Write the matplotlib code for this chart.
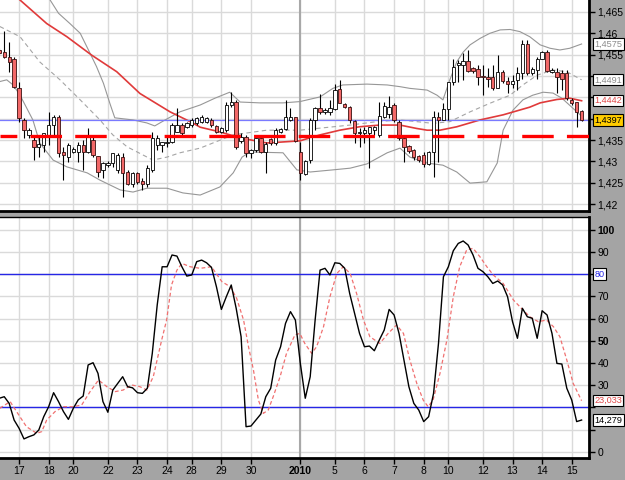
import matplotlib
matplotlib.use("Agg")
import matplotlib.pyplot as plt
import numpy as np

plt.rcParams['font.family'] = ['Liberation Sans', 'DejaVu Sans']

# 4h candles
opens = [1.4561, 1.4557, 1.4545, 1.4541, 1.4471, 1.4397, 1.4362, 1.4350, 1.4334, 1.4338,
         1.4362, 1.4385, 1.4405, 1.4323, 1.4311, 1.4323, 1.4323, 1.4338, 1.4323, 1.4350,
         1.4313, 1.4280, 1.4291, 1.4295, 1.4280, 1.4311, 1.4276, 1.4248, 1.4272, 1.4254,
         1.4246, 1.4280, 1.4338, 1.4338, 1.4342, 1.4346, 1.4369, 1.4385, 1.4381, 1.4385,
         1.4389, 1.4393, 1.4393, 1.4397, 1.4383, 1.4369, 1.4373, 1.4432, 1.4440, 1.4348,
         1.4358, 1.4319, 1.4327, 1.4354, 1.4323, 1.4352, 1.4342, 1.4369, 1.4375, 1.4397,
         1.4403, 1.4323, 1.4270, 1.4303, 1.4397, 1.4426, 1.4416, 1.4416, 1.4422, 1.4469,
         1.4434, 1.4428, 1.4395, 1.4366, 1.4366, 1.4366, 1.4373, 1.4362, 1.4405, 1.4411,
         1.4432, 1.4393, 1.4354, 1.4336, 1.4327, 1.4313, 1.4315, 1.4294, 1.4323, 1.4405,
         1.4397, 1.4422, 1.4487, 1.4526, 1.4526, 1.4536, 1.4518, 1.4516, 1.4500, 1.4498,
         1.4497, 1.4471, 1.4510, 1.4489, 1.4481, 1.4491, 1.4506, 1.4576, 1.4508, 1.4514,
         1.4541, 1.4557, 1.4510, 1.4510, 1.4506, 1.4506, 1.4444, 1.4438, 1.4419]
highs = [1.4565, 1.4605, 1.4580, 1.4545, 1.4487, 1.4401, 1.4377, 1.4358, 1.4362, 1.4366,
         1.4416, 1.4409, 1.4409, 1.4334, 1.4342, 1.4334, 1.4346, 1.4350, 1.4377, 1.4362,
         1.4313, 1.4299, 1.4301, 1.4319, 1.4319, 1.4319, 1.4280, 1.4276, 1.4276, 1.4260,
         1.4291, 1.4369, 1.4362, 1.4346, 1.4362, 1.4389, 1.4424, 1.4389, 1.4393, 1.4401,
         1.4405, 1.4409, 1.4405, 1.4401, 1.4385, 1.4381, 1.4440, 1.4463, 1.4444, 1.4366,
         1.4362, 1.4330, 1.4358, 1.4362, 1.4346, 1.4354, 1.4377, 1.4377, 1.4444, 1.4424,
         1.4405, 1.4346, 1.4303, 1.4401, 1.4428, 1.4458, 1.4424, 1.4444, 1.4482, 1.4491,
         1.4436, 1.4430, 1.4397, 1.4377, 1.4381, 1.4381, 1.4383, 1.4440, 1.4440, 1.4452,
         1.4436, 1.4397, 1.4362, 1.4338, 1.4330, 1.4315, 1.4323, 1.4325, 1.4419, 1.4416,
         1.4436, 1.4487, 1.4541, 1.4537, 1.4553, 1.4561, 1.4522, 1.4526, 1.4526, 1.4518,
         1.4526, 1.4549, 1.4514, 1.4498, 1.4502, 1.4522, 1.4584, 1.4584, 1.4522, 1.4544,
         1.4559, 1.4561, 1.4518, 1.4518, 1.4514, 1.4514, 1.4448, 1.4440, 1.4420]
lows = [1.4550, 1.4542, 1.4510, 1.4471, 1.4393, 1.4354, 1.4354, 1.4303, 1.4311, 1.4323,
        1.4338, 1.4362, 1.4311, 1.4256, 1.4299, 1.4319, 1.4299, 1.4280, 1.4319, 1.4311,
        1.4264, 1.4260, 1.4287, 1.4287, 1.4272, 1.4217, 1.4245, 1.4241, 1.4248, 1.4233,
        1.4241, 1.4276, 1.4327, 1.4323, 1.4334, 1.4342, 1.4369, 1.4362, 1.4377, 1.4381,
        1.4385, 1.4389, 1.4389, 1.4381, 1.4366, 1.4366, 1.4369, 1.4428, 1.4330, 1.4342,
        1.4311, 1.4307, 1.4323, 1.4319, 1.4272, 1.4338, 1.4338, 1.4366, 1.4373, 1.4395,
        1.4346, 1.4256, 1.4268, 1.4295, 1.4373, 1.4412, 1.4412, 1.4409, 1.4420, 1.4436,
        1.4426, 1.4389, 1.4342, 1.4334, 1.4342, 1.4284, 1.4362, 1.4358, 1.4401, 1.4401,
        1.4393, 1.4350, 1.4299, 1.4319, 1.4303, 1.4299, 1.4287, 1.4291, 1.4264, 1.4299,
        1.4397, 1.4397, 1.4479, 1.4487, 1.4491, 1.4510, 1.4506, 1.4479, 1.4455, 1.4475,
        1.4467, 1.4471, 1.4483, 1.4459, 1.4471, 1.4467, 1.4494, 1.4502, 1.4502, 1.4494,
        1.4539, 1.4510, 1.4506, 1.4459, 1.4467, 1.4444, 1.4432, 1.4380, 1.4395]
closes = [1.4554, 1.4545, 1.4533, 1.4475, 1.4401, 1.4373, 1.4373, 1.4334, 1.4340, 1.4366,
          1.4385, 1.4405, 1.4319, 1.4315, 1.4338, 1.4330, 1.4338, 1.4323, 1.4362, 1.4315,
          1.4274, 1.4295, 1.4297, 1.4319, 1.4315, 1.4272, 1.4248, 1.4272, 1.4252, 1.4246,
          1.4284, 1.4354, 1.4354, 1.4346, 1.4346, 1.4385, 1.4385, 1.4366, 1.4389, 1.4397,
          1.4401, 1.4405, 1.4401, 1.4385, 1.4369, 1.4377, 1.4432, 1.4440, 1.4334, 1.4358,
          1.4319, 1.4327, 1.4354, 1.4323, 1.4340, 1.4342, 1.4373, 1.4375, 1.4403, 1.4403,
          1.4348, 1.4272, 1.4301, 1.4397, 1.4426, 1.4416, 1.4420, 1.4424, 1.4467, 1.4436,
          1.4428, 1.4397, 1.4366, 1.4369, 1.4373, 1.4380, 1.4380, 1.4407, 1.4430, 1.4428,
          1.4397, 1.4355, 1.4334, 1.4325, 1.4311, 1.4303, 1.4294, 1.4323, 1.4405, 1.4397,
          1.4422, 1.4487, 1.4522, 1.4530, 1.4536, 1.4512, 1.4512, 1.4497, 1.4497, 1.4494,
          1.4471, 1.4510, 1.4489, 1.4481, 1.4489, 1.4506, 1.4576, 1.4508, 1.4516, 1.4541,
          1.4557, 1.4512, 1.4514, 1.4497, 1.4494, 1.4448, 1.4436, 1.4416, 1.4397]

# bollinger bands and moving average (bar position, value)
bb_up_x = [9, 10.3, 12, 14.3, 16.4, 18.4, 19.7, 21.1, 22.4, 23.4, 27.1, 29.9, 31.5, 33.6,
           36.6, 40.7, 43.7, 46.7, 48.8, 52.8, 57.5, 60.9, 65, 67.6, 69.6, 74.5, 78.6, 81.2,
           83.2, 86.7, 88.7, 89.9, 91.3, 92.7, 94, 95.4, 97.4, 99.4, 101.5, 103.5, 105.5,
           107.5, 109.6, 111.6, 113.6, 115.6, 118]
bb_up = [1.4702, 1.4678, 1.4647, 1.4623, 1.4600, 1.4553, 1.4522, 1.4483, 1.4436, 1.4402,
         1.4397, 1.4390, 1.4383, 1.4397, 1.4416, 1.4432, 1.4448, 1.4462, 1.4439, 1.4437,
         1.4437, 1.4440, 1.4451, 1.4471, 1.4479, 1.4481, 1.4479, 1.4475, 1.4471, 1.4467,
         1.4455, 1.4444, 1.4491, 1.4533, 1.4556, 1.4573, 1.4588, 1.4600, 1.4608, 1.4609,
         1.4604, 1.4592, 1.4573, 1.4565, 1.4561, 1.4565, 1.4575]
bb_mid_x = [0.1, 4.2, 8.2, 12.3, 16.4, 20.4, 23, 25.9, 29.1, 31.1, 34, 36.6, 40.7, 47.4,
            54.2, 60.9, 71.1, 76.5, 81.2, 84.6, 87.9, 91.3, 95.4, 99.4, 103.5, 106.1, 109,
            112.2, 115, 118]
bb_mid = [1.4616, 1.4592, 1.4533, 1.4491, 1.4444, 1.4397, 1.4362, 1.4334, 1.4315, 1.4303,
          1.4310, 1.4320, 1.4331, 1.4362, 1.4373, 1.4373, 1.4385, 1.4393, 1.4397, 1.4393,
          1.4389, 1.4393, 1.4416, 1.4436, 1.4455, 1.4479, 1.4502, 1.4514, 1.4510, 1.4491]
bb_low_x = [0.1, 1.5, 2.8, 4.2, 6.8, 8.2, 10.9, 13.7, 17.8, 20.4, 24.5, 27.1, 29.9, 34,
            37.2, 40.7, 44.7, 47.4, 49.2, 50.8, 57.5, 60.3, 63, 67.6, 71.1, 74.5, 78.6,
            81.2, 83.2, 86.7, 89.9, 92.7, 95.4, 98.8, 100.9, 102.1, 104.1, 106.1, 108.1,
            110.2, 112.2, 114, 116, 118]
bb_low = [1.4487, 1.4491, 1.4479, 1.4455, 1.4397, 1.4343, 1.4303, 1.4287, 1.4273, 1.4256,
          1.4233, 1.4228, 1.4237, 1.4237, 1.4226, 1.4221, 1.4240, 1.4273, 1.4310, 1.4322,
          1.4320, 1.4280, 1.4275, 1.4280, 1.4284, 1.4294, 1.4320, 1.4331, 1.4310, 1.4296,
          1.4291, 1.4275, 1.4249, 1.4252, 1.4296, 1.4373, 1.4420, 1.4444, 1.4455, 1.4462,
          1.4460, 1.4448, 1.4427, 1.4406]
ma_x = [3, 4.2, 9.6, 13.7, 18.7, 23.8, 28.5, 34.6, 39.2, 40.7, 44.7, 48.8, 54.2, 60.9, 65,
        69, 73, 77.1, 81.2, 84.6, 86.7, 89.3, 92.7, 97.4, 102.1, 107.5, 109.6, 113, 115.6, 118]
ma = [1.4690, 1.4678, 1.4623, 1.4592, 1.4549, 1.4510, 1.4459, 1.4416, 1.4390, 1.4380,
      1.4369, 1.4355, 1.4343, 1.4348, 1.4362, 1.4373, 1.4381, 1.4385, 1.4385, 1.4377,
      1.4373, 1.4373, 1.4381, 1.4397, 1.4409, 1.4427, 1.4437, 1.4445, 1.4448, 1.4442]

last_close = 1.4397
support = 1.436

# stochastic
stoch_k = [24.1, 24.8, 21.8, 14.3, 10.6, 5.8, 6.8, 7.6, 9.8, 15.8,
           20.3, 26.6, 22.6, 18.1, 14.6, 19.6, 23.4, 25.1, 39.1, 40.1,
           35.3, 22.6, 17.8, 27.8, 30.8, 33.8, 29.3, 28.8, 26.6, 26.3,
           28.6, 44.3, 66.1, 83.3, 83.3, 88.6, 88.1, 83.3, 79.1, 79.6,
           85.6, 86.3, 85.1, 83.0, 74.3, 64.1, 69.8, 75.1, 64.6, 51.8,
           11.3, 11.6, 14.3, 17.0, 24.8, 28.6, 41.3, 47.3, 57.8, 63.1,
           59.3, 39.8, 24.1, 33.8, 59.3, 81.8, 82.6, 79.6, 85.1, 84.8,
           82.6, 71.3, 62.3, 53.3, 47.3, 47.6, 45.5, 50.3, 54.8, 64.1,
           61.6, 53.3, 41.3, 29.3, 21.8, 18.8, 13.6, 15.8, 26.3, 48.8,
           78.8, 83.3, 90.5, 93.8, 94.9, 93.1, 88.6, 82.6, 81.1, 78.8,
           75.8, 76.9, 75.1, 69.8, 58.6, 51.1, 64.6, 60.8, 60.1, 51.1,
           63.5, 61.6, 53.3, 39.8, 39.5, 28.6, 23.3, 13.6, 14.3]
stoch_d_x = [0.1, 2.2, 3.5, 5.5, 7.6, 8.6, 9.6, 11.3, 13, 15, 16.7, 18.4, 20.1, 21.8, 23.5,
             25.1, 26.8, 28.5, 29.9, 31.2, 32.9, 33.9, 34.9, 36, 37, 38.7, 40.7, 43, 45.1,
             46.8, 48.1, 49.5, 50.5, 51.5, 52.5, 53.5, 54.5, 55.5, 56.9, 58.2, 59.9, 60.9,
             61.9, 63.3, 64.3, 65.7, 67, 68.4, 69.7, 71.1, 72.4, 73.8, 75.1, 77.1, 78.8,
             80.5, 81.9, 83.2, 84.6, 85.9, 86.9, 87.9, 89.3, 90.7, 92, 93.3, 94.7, 96, 97.4,
             98.8, 100.1, 102.1, 104.2, 105.8, 107.5, 109.2, 110.9, 112.3, 113.6, 115,
             116.3, 118]
stoch_d = [19.6, 22.6, 18.1, 11.3, 8.3, 9.1, 14.3, 18.1, 20.3, 20.3, 21.1, 27.1, 32.3, 29.3,
           27.1, 27.8, 30.1, 29.3, 27.8, 33.8, 50.3, 59.3, 75.1, 81.8, 84.8, 83.3, 82.6, 83.3,
           76.6, 74.3, 69.1, 59.3, 47.3, 36.8, 23.3, 17.3, 18.8, 24.8, 33.8, 44.3, 52.6, 53.3,
           48.8, 44.3, 47.3, 56.3, 69.8, 80.3, 83.3, 80.3, 71.3, 59.3, 51.8, 48.8, 53.3, 57.1,
           53.3, 41.3, 30.8, 23.3, 20.3, 23.3, 35.3, 50.3, 69.8, 83.3, 90.8, 91.6, 87.8, 83.3,
           79.6, 75.8, 68.3, 64.6, 60.8, 58.6, 59.3, 56.3, 51.8, 41.3, 30.8, 23.0]

date_pos = [4, 10, 15, 22, 28, 34, 39, 45, 51, 61, 68, 74, 80, 86, 91, 98, 104, 110, 116]
date_labels = ['17', '18', '20', '22', '23', '24', '28', '29', '30', '2010',
               '5', '6', '7', '8', '10', '12', '13', '14', '15']
year_pos = 61

# labels hidden behind the value boxes are left blank
price_ticks = [1.42, 1.425, 1.43, 1.435, 1.44, 1.445, 1.45, 1.455, 1.46, 1.465]
price_labels = ['1,42', '1,425', '1,43', '1,435', '', '', '', '1,455', '1,46', '1,465']
stoch_ticks = [0, 10, 20, 30, 40, 50, 60, 70, 80, 90, 100]
stoch_labels = ['0', '', '', '30', '40', '50', '60', '70', '', '90', '100']

bg = '#a4a4a4'
grid_c = '#dadada'

fig = plt.figure(figsize=(6.25, 4.8), dpi=100, facecolor=bg)
ax1 = fig.add_axes([0, 0.5604, 0.9424, 0.4396])
ax2 = fig.add_axes([0, 0.0458, 0.9424, 0.5021])

for ax in (ax1, ax2):
    ax.set_facecolor('white')
    ax.set_xlim(0.14, 119.5)
    ax.set_xticks(date_pos)
    ax.grid(True, color=grid_c, lw=1.0)
    ax.set_axisbelow(True)
    ax.axvline(year_pos, color='#a8a8a8', lw=1.5, zorder=1)
    ax.yaxis.tick_right()
    ax.tick_params(axis='y', direction='out', length=4, width=1, pad=2, labelsize=7.5)
    ax.spines['left'].set_visible(False)
    for s in ('right', 'bottom', 'top'):
        ax.spines[s].set_color('black')
    ax.spines['right'].set_linewidth(2)
    ax.spines['bottom'].set_linewidth(2)

ax1.spines['top'].set_visible(False)
ax2.spines['top'].set_linewidth(1)

# --- price panel ---
ax1.set_ylim(1.41836, 1.46781)
ax1.set_yticks(price_ticks)
ax1.set_yticklabels(price_labels)
ax1.tick_params(axis='x', length=0, labelbottom=False)

ax1.plot(bb_up_x, bb_up, color='#979797', lw=0.8, zorder=2)
ax1.plot(bb_low_x, bb_low, color='#979797', lw=0.8, zorder=2)
ax1.plot(bb_mid_x, bb_mid, color='#a5a5a5', lw=0.8, ls=(0, (4, 3)), zorder=2)
ax1.plot(ma_x, ma, color='#e03a3a', lw=1.2, zorder=2)
ax1.axhline(last_close, color='#7a7aff', lw=0.9, zorder=2)

x = np.arange(len(opens))
o = np.array(opens)
h = np.array(highs)
l = np.array(lows)
c = np.array(closes)
up = c >= o
ax1.vlines(x, l, h, color='black', lw=0.8, zorder=3)
ax1.bar(x[up], c[up] - o[up], bottom=o[up], width=0.68, color='white',
        edgecolor='black', lw=0.6, zorder=4)
ax1.bar(x[~up], o[~up] - c[~up], bottom=c[~up], width=0.68, color='#f26868',
        edgecolor='#3a1010', lw=0.6, zorder=4)

ax1.axhline(support, color='#ff0000', lw=2.4, ls=(4.4, (9.45, 3.96)), zorder=6)

# value boxes on the price scale
ytr1 = ax1.get_yaxis_transform()
boxes1 = [(bb_up[-1], '1,4575', '#8c8c8c', 'white'),
          (bb_mid[-1], '1,4491', '#8c8c8c', 'white'),
          (ma[-1], '1,4442', '#e04848', 'white'),
          (last_close, '1,4397', 'black', '#ffcc00')]
for val, txt, tc, fc in boxes1:
    ax1.text(1.0095, val, txt, transform=ytr1, ha='left', va='center', fontsize=6.6,
             color=tc, clip_on=False, zorder=10,
             bbox=dict(boxstyle='square,pad=0.12', fc=fc, ec='black', lw=0.8))

# --- stochastic panel ---
ax2.set_ylim(-2.8, 105.7)
ax2.set_yticks(stoch_ticks)
ax2.set_yticklabels(stoch_labels)
for lbl in ax2.get_yticklabels():
    if lbl.get_text() in ('50', '100'):
        lbl.set_fontweight('bold')
ax2.set_xticklabels(date_labels)
ax2.tick_params(axis='x', direction='out', length=4, width=1, pad=2, labelsize=7.5)
for lbl in ax2.get_xticklabels():
    if lbl.get_text() == '2010':
        lbl.set_fontweight('bold')

ax2.axhline(80, color='#2626e6', lw=1.0, zorder=2)
ax2.axhline(20, color='#2626e6', lw=1.0, zorder=2)
ax2.plot(stoch_d_x, stoch_d, color='#f07070', lw=0.9, ls=(0, (3, 2)), zorder=3)
ax2.plot(x, stoch_k, color='black', lw=1.0, zorder=4)

ytr2 = ax2.get_yaxis_transform()
boxes2 = [(80, '80', '#2626e6'),
          (stoch_d[-1], '23,033', '#e04848'),
          (stoch_k[-1], '14,279', 'black')]
for val, txt, tc in boxes2:
    ax2.text(1.0095, val, txt, transform=ytr2, ha='left', va='center', fontsize=6.6,
             color=tc, clip_on=False, zorder=10,
             bbox=dict(boxstyle='square,pad=0.12', fc='white', ec='black', lw=0.8))

fig.savefig('out.png', dpi=100, facecolor=bg)
